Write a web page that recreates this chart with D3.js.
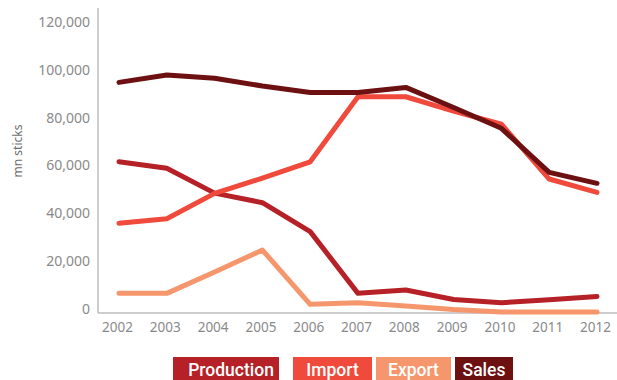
<!DOCTYPE html>
<html>
<head>
<meta charset="utf-8">
<script src="https://cdn.jsdelivr.net/npm/d3@7"></script>
<style>
  html, body { margin: 0; padding: 0; background: #fff; }
  svg { display: block; }
</style>
</head>
<body>
<svg id="chart" width="617" height="380"></svg>
<script>
// Years on the x axis
const years = ["2002", "2003", "2004", "2005", "2006", "2007", "2008", "2009", "2010", "2011", "2012"];

// Cigarette volumes, million sticks
const production = [62800, 60100, 49700, 45700, 33600, 7800, 9200, 5200, 3900, 5100, 6500];
const importVals = [37100, 39000, 49600, 56000, 62800, 90000, 90000, 84000, 78500, 55600, 50000];
const exportVals = [7800, 7800, 16700, 25900, 3200, 3900, 2500, 1000, 0, 0, 0];
const sales = [96000, 99100, 97700, 94500, 91800, 91800, 93900, 85500, 76800, 58400, 53800];

// Y axis ticks
const yTicks = [0, 20000, 40000, 60000, 80000, 100000, 120000];

// Series names and colours
const seriesNames = ["Production", "Import", "Export", "Sales"];
const seriesColors = ["#b52126", "#ef4a3c", "#f6966c", "#6d1012"];
const seriesValues = [production, importVals, exportVals, sales];

const svg = d3.select("#chart");

const x = d3.scalePoint().domain(years).range([119, 597]);
const y = d3.scaleLinear().domain([0, 120000]).range([312, 25]);

const fmt = d3.format(",");

// Axis lines
svg.append("line")
  .attr("x1", 98).attr("x2", 98).attr("y1", 8).attr("y2", 313)
  .attr("stroke", "#bdbdbd").attr("stroke-width", 1.5);
svg.append("line")
  .attr("x1", 98).attr("x2", 617).attr("y1", 313).attr("y2", 313)
  .attr("stroke", "#bdbdbd").attr("stroke-width", 1.5);

// Y axis labels
const yAxis = d3.axisLeft(y).tickValues(yTicks).tickFormat(fmt).tickSize(0).tickPadding(8);
const gy = svg.append("g").attr("transform", "translate(98,-3)").call(yAxis);
gy.select(".domain").remove();
gy.selectAll("text")
  .attr("fill", "#8a8a8a")
  .style("font-family", "'Noto Sans', sans-serif")
  .style("font-size", "14px");

// X axis labels
const xAxis = d3.axisBottom(x).tickSize(0).tickPadding(9);
const gx = svg.append("g").attr("transform", "translate(-2,313)").call(xAxis);
gx.select(".domain").remove();
gx.selectAll("text")
  .attr("fill", "#8a8a8a")
  .style("font-family", "'Noto Sans', sans-serif")
  .style("font-size", "13.5px");

// Y axis title
svg.append("text")
  .attr("transform", "translate(22,151) rotate(-90)")
  .attr("text-anchor", "middle")
  .attr("fill", "#707070")
  .style("font-family", "'Noto Sans', sans-serif")
  .style("font-size", "12px")
  .text("mn sticks");

// Series lines
const line = d3.line()
  .x((d, i) => x(years[i]))
  .y(d => y(d));

seriesValues.forEach((vals, i) => {
  svg.append("path")
    .datum(vals)
    .attr("d", line)
    .attr("fill", "none")
    .attr("stroke", seriesColors[i])
    .attr("stroke-width", 5)
    .attr("stroke-linejoin", "round")
    .attr("stroke-linecap", "round");
});

// Legend boxes
const legendBoxes = [
  { x: 173, w: 106 },
  { x: 293, w: 79 },
  { x: 376, w: 75 },
  { x: 455, w: 58 }
];
const legend = svg.append("g");
seriesNames.forEach((name, i) => {
  const b = legendBoxes[i];
  legend.append("rect")
    .attr("x", b.x).attr("y", 357)
    .attr("width", b.w).attr("height", 25)
    .attr("fill", seriesColors[i]);
  legend.append("text")
    .attr("x", b.x + b.w / 2 + (i === 0 ? 5 : 0))
    .attr("y", 376)
    .attr("text-anchor", "middle")
    .attr("fill", "#ffffff")
    .style("font-family", "Roboto, sans-serif")
    .style("font-weight", "500")
    .style("font-size", "17.5px")
    .text(name);
});
</script>
</body>
</html>
